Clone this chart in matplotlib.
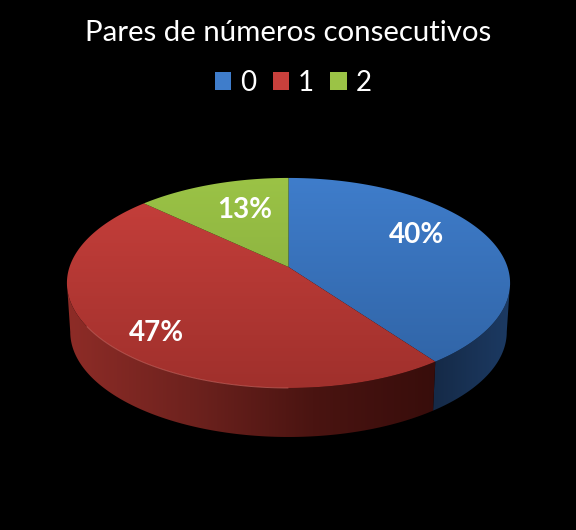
import numpy as np
import matplotlib
matplotlib.use("agg")
import matplotlib.pyplot as plt
from matplotlib.patches import Polygon, Patch
from matplotlib.colors import LinearSegmentedColormap

title = "Pares de números consecutivos"
categories = ["0", "1", "2"]
values = [40, 47, 13]

colors = ["#3f7dcb", "#c8403c", "#9bc346"]
top_dark = ["#2f62a3", "#a0302c", "#7fa33a"]
# left to right shades of the side wall
wall_cols = [["#152a47", "#1c3a63"], ["#8e2c27", "#6e221e", "#4a1411", "#380d0b"]]

plt.rcParams["font.family"] = ["Lato", "DejaVu Sans"]

fig = plt.figure(figsize=(5.76, 5.30), dpi=100, facecolor="black")
ax = fig.add_axes([0, 0, 1, 1])
ax.axis("off")

# pie apex and perspective of the tilted disc
cx, cy = 288.5, 267
a, b, k = 219, 102.6, 0.152
depth = 49
shrink = 0.985
# where the rim turns from the front to the back
side_lo = np.degrees(np.arccos(-k))
side_hi = 360 - side_lo


def rim(theta, low=False):
    # theta in degrees, clockwise from the top
    t = np.radians(theta)
    u, v = np.sin(t), np.cos(t)
    w = 1 + k * v
    x = a * u / w
    y = b * v / w
    if low:
        return cx + x * shrink, cy - y + depth
    return cx + x, cy - y


def gradient_fill(poly, cols, zorder=2):
    cmap = LinearSegmentedColormap.from_list("g", cols)
    xs, ys = poly[:, 0], poly[:, 1]
    ext = [xs.min(), xs.max(), ys.max(), ys.min()]
    im = ax.imshow(np.linspace(0, 1, 256).reshape(1, -1), cmap=cmap, extent=ext,
                   aspect="auto", zorder=zorder)
    p = Polygon(poly, closed=True, fc="none", ec="none")
    ax.add_patch(p)
    im.set_clip_path(p)


edges = np.cumsum([0] + values) / sum(values) * 360

# side wall, only the front part shows
for i in [0, 1]:
    lo = max(edges[i], side_lo)
    hi = min(edges[i + 1], side_hi)
    th = np.linspace(lo, hi, 160)
    x1, y1 = rim(th)
    x2, y2 = rim(th[::-1], low=True)
    poly = np.column_stack([np.r_[x1, x2], np.r_[y1, y2]])
    gradient_fill(poly, wall_cols[i])
    if i == 1:
        # lighter lip along the front of the red slice
        keep = (th > 180) & (th < 238)
        ax.plot(x1[keep], y1[keep], color="#d8706a", lw=0.7, alpha=0.6, zorder=5)

# top face
all_th = np.linspace(0, 360, 400)
_, ally = rim(all_th)
for i in range(len(values)):
    th = np.linspace(edges[i], edges[i + 1], 150)
    x1, y1 = rim(th)
    poly = np.column_stack([np.r_[cx, x1], np.r_[cy, y1]])
    cmap = LinearSegmentedColormap.from_list("t", [colors[i], top_dark[i]])
    im = ax.imshow(np.linspace(0, 1, 256).reshape(-1, 1), cmap=cmap, aspect="auto",
                   extent=[40, 530, ally.max(), ally.min()], zorder=4)
    p = Polygon(poly, closed=True, fc="none", ec="none")
    ax.add_patch(p)
    im.set_clip_path(p)

ax.set_xlim(0, 576)
ax.set_ylim(530, 0)

# percent labels
label_x = [417, 156, 245]
label_y = [235, 333, 210]
for i in range(len(values)):
    ax.text(label_x[i], label_y[i], f"{values[i]}%", color="white", fontsize=20,
            fontweight="bold", ha="center", va="center", zorder=6)

ax.text(288, 33, title, color="white", fontsize=21.2, ha="center", va="center")

handles = [Patch(fc=colors[i], ec="none") for i in range(len(categories))]
leg = fig.legend(handles, categories, ncol=3, frameon=False, loc="center",
                 bbox_to_anchor=(293 / 576, 1 - 83 / 530), fontsize=20,
                 labelcolor="white", handlelength=0.6, handleheight=0.6,
                 handletextpad=0.3, columnspacing=0.6)

fig.savefig("out.png", dpi=100, facecolor="black")
